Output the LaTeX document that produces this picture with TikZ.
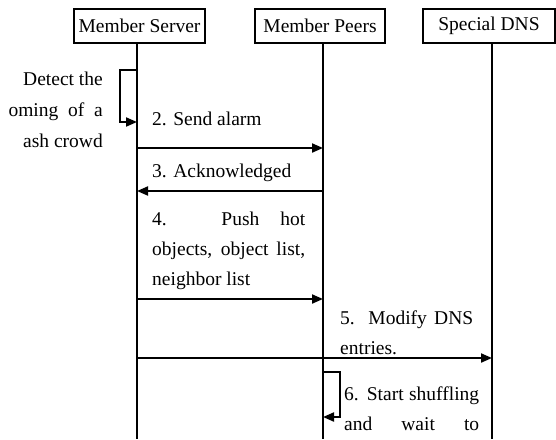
\documentclass[tikz,border=0pt]{standalone}
\usepackage{fontspec}
\setmainfont{Liberation Serif}
\usetikzlibrary{arrows.meta}
\begin{document}
\begin{tikzpicture}[x=1pt,y=-1pt,
  txt/.style={font=\fontsize{19.5}{30}\selectfont},
  actor/.style={txt,draw,line width=1.2pt,minimum height=34pt,inner sep=0pt},
  life/.style={line width=1.2pt},
  msg/.style={line width=2pt,-{Triangle[length=11pt,width=9pt]}},
  lbl/.style={txt,inner sep=0pt,anchor=base west},
  para/.style={txt,inner sep=0pt,anchor=base west,text width=#1,align=justify}]
\useasboundingbox (0,0) rectangle (556,439);
% actors
\node[actor,minimum width=131pt] (ms) at (139.5,26) {Member Server};
\node[actor,minimum width=130pt] (mp) at (320,26) {Member Peers};
\node[actor,minimum width=132pt] (dns) at (489,26) {Special DNS};
% lifeline ends
\coordinate (msEnd) at (137,439);
\coordinate (mpEnd) at (323,439);
\coordinate (dnsEnd) at (492,439);
\draw[life] (ms.south -| msEnd) -- (msEnd);
\draw[life] (mp.south -| mpEnd) -- (mpEnd);
\draw[life] (dns.south -| dnsEnd) -- (dnsEnd);
% message end points
\coordinate (a1) at (137,70);
\coordinate (b1) at (137,122);
\coordinate (a2) at (137,148);
\coordinate (b2) at (323,148);
\coordinate (a3) at (323,191);
\coordinate (b3) at (137,191);
\coordinate (a4) at (137,299);
\coordinate (b4) at (323,299);
\coordinate (a5) at (137,358);
\coordinate (b5) at (492,358);
\coordinate (a6) at (323,372);
\coordinate (b6) at (323,417);
% messages
\draw[msg] (a1) -- ++(-17,0) |- (b1);
\draw[msg] (a2) -- (b2);
\draw[msg] (a3) -- (b3);
\draw[msg] (a4) -- (b4);
\draw[msg] (a5) -- (b5);
\draw[msg] (a6) -- ++(17,0) |- (b6);
% labels
\node[txt,inner sep=0pt,anchor=base east,align=right] (t1) at (103,147)
  {Detect the\\[1pt] oming\ \ of\ \ a\\[1pt] ash crowd};
\node[lbl] (t2) at (152,125) {2. Send alarm};
\node[lbl] (t3) at (152,177) {3. Acknowledged};
\node[para=153pt] (t4) at (152,225) {4. Push hot\linebreak objects, object list,\linebreak neighbor list};
\node[para=133pt] (t5) at (340,324) {5. Modify DNS\linebreak entries.};
\node[para=135pt] (t6) at (344,400) {6. Start shuffling\linebreak \makebox[\linewidth][s]{and wait to}};
\end{tikzpicture}
\end{document}
